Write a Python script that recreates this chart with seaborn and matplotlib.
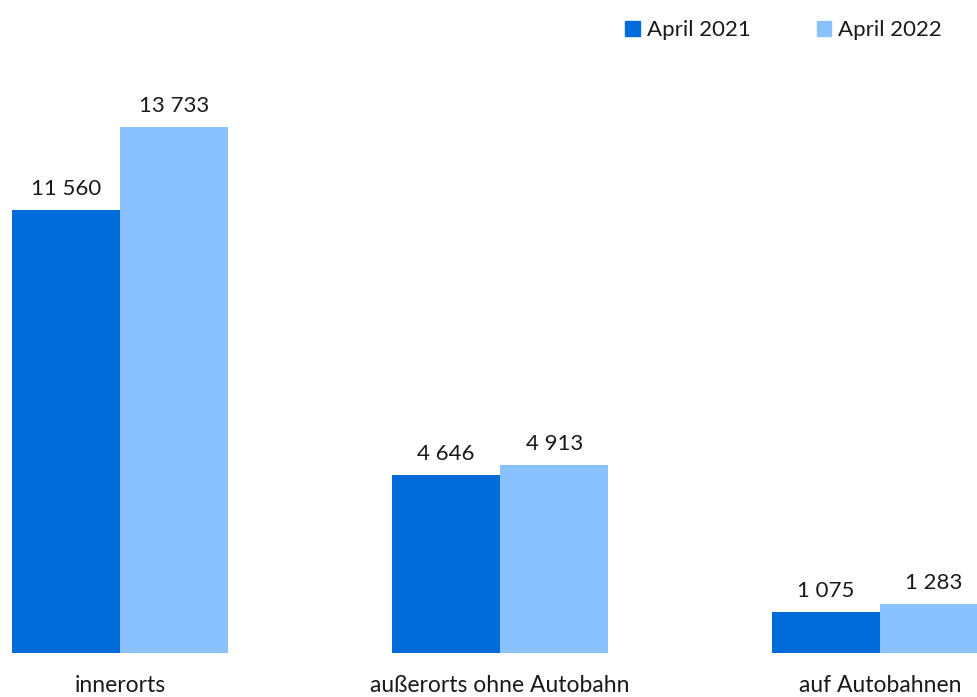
import matplotlib
matplotlib.use("Agg")
import matplotlib.pyplot as plt
import seaborn as sns
import pandas as pd
from matplotlib.patches import Patch

categories = ["innerorts", "außerorts ohne Autobahn", "auf Autobahnen"]
series_names = ["April 2021", "April 2022"]
values_2021 = [11560, 4646, 1075]
values_2022 = [13733, 4913, 1283]
colors = ["#006BD9", "#8AC2FF"]

df = pd.DataFrame({
    "cat": categories * 2,
    "series": [series_names[0]] * 3 + [series_names[1]] * 3,
    "value": values_2021 + values_2022,
})

sns.set_theme(style="white")
plt.rcParams["font.family"] = ["Lato", "DejaVu Sans"]

fig = plt.figure(figsize=(9.78, 6.97), dpi=100)
ax = fig.add_axes([0, 44 / 697, 1, 653 / 697])

sns.barplot(data=df, x="cat", y="value", hue="series", order=categories,
            hue_order=series_names, palette=colors, width=0.57, saturation=1,
            ax=ax, legend=False, linewidth=0)

def fmt(v):
    return f"{v:,}".replace(",", " ")

for cont in ax.containers:
    ax.bar_label(cont, labels=[fmt(int(v)) for v in cont.datavalues],
                 padding=8, fontsize=16, color="#1a1a1a")

ax.set_xlim(-0.316, 2.258)
ax.set_ylim(0, 17050)
ax.set_xlabel("")
ax.set_ylabel("")
ax.set_yticks([])
ax.tick_params(axis="x", length=0, labelsize=16.5, colors="#1a1a1a", pad=16)
for s in ax.spines.values():
    s.set_visible(False)

handles = [Patch(color=c, label=n) for c, n in zip(colors, series_names)]
fig.legend(handles=handles, loc="upper right", bbox_to_anchor=(0.9835, 1.0),
           ncol=2, frameon=False, fontsize=16, handlelength=0.65,
           handleheight=0.65, handletextpad=0.3, columnspacing=3.0,
           labelcolor="#1a1a1a")

fig.savefig("out.png", dpi=100)
